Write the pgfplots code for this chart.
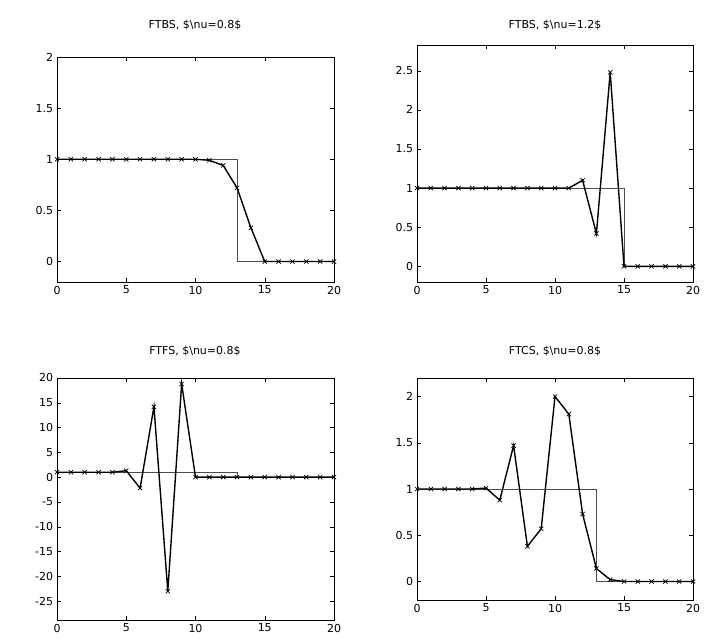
\documentclass[border=0pt]{standalone}
\usepackage{pgfplots}
\pgfplotsset{compat=1.18}
\usepackage{fontspec}
\setmainfont{DejaVu Sans}
\begin{document}
\fontsize{11}{13}\selectfont
\begin{tikzpicture}[x=1pt,y=1pt]
\path (0pt,0pt) rectangle (720pt,640pt);
\pgfplotsset{every axis/.style={scale only axis, anchor=south west, xmin=0,xmax=20, xtick={0,5,...,20},
 tick align=inside, tick style={black,thin}, axis line style={thin},
 tick label style={font=\fontsize{11}{13}\selectfont},
 /pgf/number format/assume math mode=true, clip=false},
 step/.style={black!70, thin, const plot},
 sol/.style={black, line width=1.4pt, mark=x, mark size=3pt, mark options={line width=0.7pt}}}
\begin{axis}[at={(57pt,358pt)}, width=277pt, height=225pt, ymin=-0.2, ymax=2, ytick={0,0.5,...,2}]
\addplot[step] coordinates {(0,1)(13,1)(13,0)(20,0)};
\addplot[sol] coordinates {(0,1)(1,1)(2,1)(3,1)(4,1)(5,1)(6,1)(7,1)(8,1)(9,1)(10,1)(11,0.99)(12,0.94)(13,0.72)(14,0.33)(15,0)(16,0)(17,0)(18,0)(19,0)(20,0)};
\end{axis}
\begin{axis}[at={(417pt,358pt)}, width=276pt, height=237pt, ymin=-0.2, ymax=2.83, ytick={0,0.5,...,2.5}]
\addplot[step] coordinates {(0,1)(15,1)(15,0)(20,0)};
\addplot[sol] coordinates {(0,1)(1,1)(2,1)(3,1)(4,1)(5,1)(6,1)(7,1)(8,1)(9,1)(10,1)(11,1)(12,1.1)(13,0.42)(14,2.48)(15,0)(16,0)(17,0)(18,0)(19,0)(20,0)};
\end{axis}
\begin{axis}[at={(57pt,20pt)}, width=277pt, height=242pt, ymin=-28.8, ymax=20, ytick={-25,-20,...,20}]
\addplot[step] coordinates {(0,1)(13,1)(13,0)(20,0)};
\addplot[sol] coordinates {(0,1)(1,1)(2,1)(3,1)(4,1)(5,1.3)(6,-2.2)(7,14.2)(8,-23)(9,18.8)(10,0)(11,0)(12,0)(13,0)(14,0)(15,0)(16,0)(17,0)(18,0)(19,0)(20,0)};
\end{axis}
\begin{axis}[at={(417pt,40pt)}, width=276pt, height=222pt, ymin=-0.2, ymax=2.2, ytick={0,0.5,...,2}]
\addplot[step] coordinates {(0,1)(13,1)(13,0)(20,0)};
\addplot[sol] coordinates {(0,1)(1,1)(2,1)(3,1)(4,1)(5,1.01)(6,0.88)(7,1.47)(8,0.38)(9,0.57)(10,2.0)(11,1.81)(12,0.73)(13,0.14)(14,0.02)(15,0)(16,0)(17,0)(18,0)(19,0)(20,0)};
\end{axis}
\node at (195pt,615pt) {FTBS, \$\textbackslash nu=0.8\$};
\node at (555pt,615pt) {FTBS, \$\textbackslash nu=1.2\$};
\node at (195pt,289pt) {FTFS, \$\textbackslash nu=0.8\$};
\node at (555pt,289pt) {FTCS, \$\textbackslash nu=0.8\$};
\end{tikzpicture}
\end{document}
